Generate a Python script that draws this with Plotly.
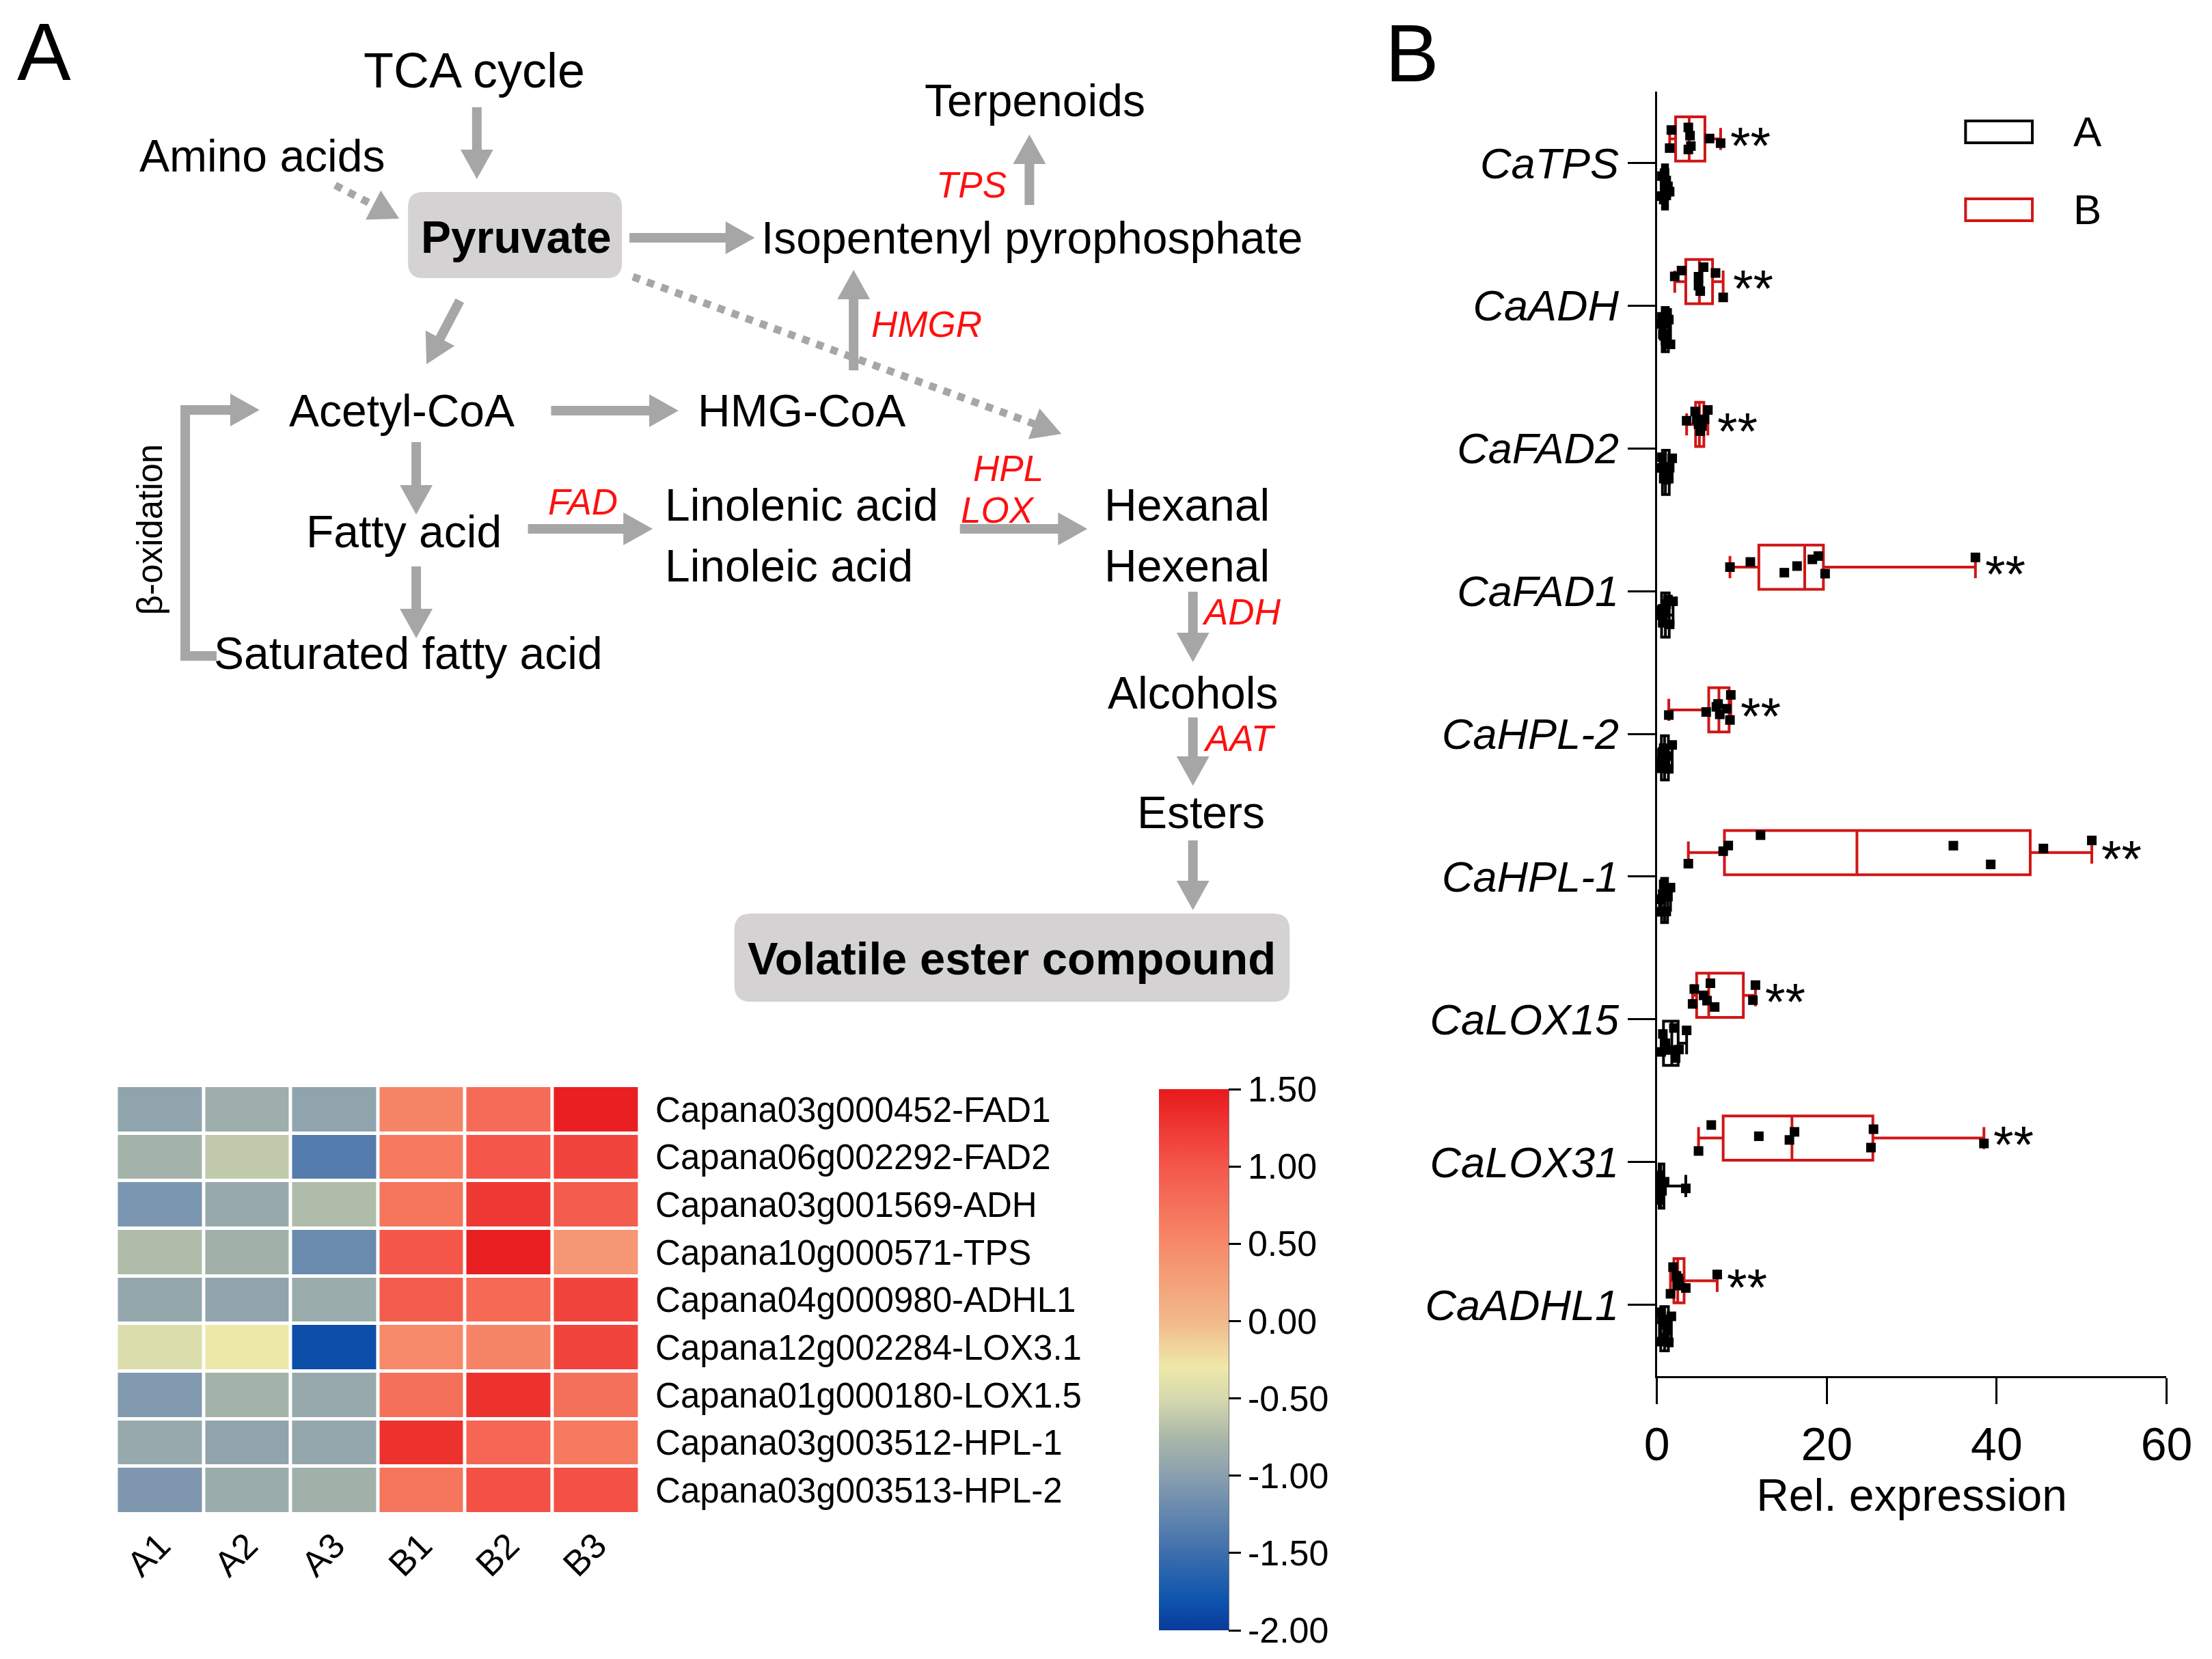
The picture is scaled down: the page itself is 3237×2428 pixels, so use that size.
import numpy as np
import plotly.graph_objects as go

W, H = 3237, 2428
FONT = "Liberation Sans, Arial, sans-serif"
GRAY = "#A6A6A6"
RED = "#D01616"
TXT_RED = "#FF1010"

# ---------------- heatmap data ----------------
samples = ["A1", "A2", "A3", "B1", "B2", "B3"]
gene_ids = ["Capana03g000452-FAD1", "Capana06g002292-FAD2", "Capana03g001569-ADH",
            "Capana10g000571-TPS", "Capana04g000980-ADHL1", "Capana12g002284-LOX3.1",
            "Capana01g000180-LOX1.5", "Capana03g003512-HPL-1", "Capana03g003513-HPL-2"]
FAD1_z = [-0.95, -0.85, -0.95, 0.55, 0.80, 1.45]
FAD2_z = [-0.80, -0.62, -1.35, 0.65, 1.00, 1.15]
ADH_z = [-1.10, -0.90, -0.72, 0.70, 1.25, 0.95]
TPS_z = [-0.72, -0.82, -1.20, 1.00, 1.45, 0.35]
ADHL1_z = [-0.92, -0.95, -0.87, 0.95, 0.82, 1.15]
LOX31_z = [-0.45, -0.30, -1.85, 0.50, 0.55, 1.15]
LOX15_z = [-1.05, -0.80, -0.90, 0.75, 1.30, 0.75]
HPL1_z = [-0.90, -0.95, -0.92, 1.30, 0.85, 0.65]
HPL2_z = [-1.08, -0.87, -0.82, 0.70, 1.05, 1.05]
cbar_ticks = [1.5, 1.0, 0.5, 0.0, -0.5, -1.0, -1.5, -2.0]

# ---------------- qPCR box data ----------------
qgenes = ["CaTPS", "CaADH", "CaFAD2", "CaFAD1", "CaHPL-2", "CaHPL-1", "CaLOX15", "CaLOX31", "CaADHL1"]
TPS_A = [0.5, 0.6, 0.8, 0.9, 1.0, 1.1, 1.3, 1.5]
TPS_B = [1.5, 1.7, 3.7, 3.7, 3.9, 4.0, 6.2, 7.5]
ADH_A = [0.4, 0.6, 0.7, 0.9, 1.0, 1.2, 1.4, 1.6]
ADH_B = [2.1, 2.9, 4.9, 4.9, 5.1, 5.5, 6.9, 7.8]
FAD2_A = [0.4, 0.6, 0.8, 0.9, 1.1, 1.3, 1.5, 1.8]
FAD2_B = [3.5, 4.5, 4.7, 4.9, 5.1, 5.3, 5.6, 6.0]
FAD1_A = [0.3, 0.5, 0.7, 0.9, 1.1, 1.3, 1.5, 1.9]
FAD1_B = [8.6, 11.0, 15.0, 16.5, 18.3, 19.0, 19.8, 37.5]
HPL2_A = [0.3, 0.5, 0.6, 0.8, 1.0, 1.2, 1.4, 1.8]
HPL2_B = [1.4, 5.8, 7.0, 7.2, 7.4, 8.2, 8.6, 8.7]
HPL1_A = [0.3, 0.5, 0.7, 0.8, 1.0, 1.1, 1.3, 1.6]
HPL1_B = [3.7, 7.8, 8.4, 12.2, 34.9, 39.3, 45.5, 51.2]
LOX15_A = [0.5, 0.7, 1.0, 1.5, 2.0, 2.2, 2.6, 3.5]
LOX15_B = [4.2, 4.4, 5.5, 5.9, 6.3, 6.8, 11.3, 11.6]
LOX31_A = [0.2, 0.25, 0.3, 0.4, 0.5, 0.6, 0.9, 3.4]
LOX31_B = [4.9, 6.4, 12.0, 15.6, 16.2, 25.2, 25.5, 38.5]
ADHL1_A = [0.3, 0.4, 0.6, 0.8, 1.0, 1.2, 1.4, 1.7]
ADHL1_B = [1.6, 1.9, 2.3, 2.4, 2.5, 2.6, 3.4, 7.1]
x_ticks = [0, 20, 40, 60]
signif = "**"

groupA = [TPS_A, ADH_A, FAD2_A, FAD1_A, HPL2_A, HPL1_A, LOX15_A, LOX31_A, ADHL1_A]
groupB = [TPS_B, ADH_B, FAD2_B, FAD1_B, HPL2_B, HPL1_B, LOX15_B, LOX31_B, ADHL1_B]
heat_z = [FAD1_z, FAD2_z, ADH_z, TPS_z, ADHL1_z, LOX31_z, LOX15_z, HPL1_z, HPL2_z]

# ---------------- pathway diagram text ----------------
pathway_labels = [
    ("TCA cycle", 698, 103, "center", 72),
    ("Amino acids", 387, 228, "center", 66),
    ("Terpenoids", 1521, 147, "center", 66),
    ("Isopentenyl pyrophosphate", 1517, 348, "center", 66),
    ("Acetyl-CoA", 592, 601, "center", 66),
    ("HMG-CoA", 1179, 601, "center", 66),
    ("Fatty acid", 595, 778, "center", 66),
    ("Linolenic acid", 976, 739, "left", 66),
    ("Linoleic acid", 976, 828, "left", 66),
    ("Hexanal", 1621, 739, "left", 66),
    ("Hexenal", 1621, 828, "left", 66),
    ("Saturated fatty acid", 601, 956, "center", 66),
    ("Alcohols", 1753, 1014, "center", 66),
    ("Esters", 1765, 1189, "center", 66),
]
enzyme_labels = [
    ("TPS", 1428, 270), ("HMGR", 1362, 475), ("FAD", 858, 734), ("HPL", 1482, 685),
    ("LOX", 1466, 747), ("ADH", 1825, 895), ("AAT", 1821, 1080),
]
# arrows: x0, y0, x1, y1, dotted
arrows = [
    (702, 157, 702, 262, False),
    (494, 271, 588, 320, True),
    (677, 440, 628, 533, False),
    (926, 348, 1110, 348, False),
    (931, 405, 1560, 635, True),
    (1513, 300, 1513, 197, False),
    (1255, 542, 1255, 395, False),
    (811, 601, 998, 601, False),
    (613, 647, 613, 753, False),
    (613, 829, 613, 934, False),
    (777, 774, 960, 774, False),
    (1411, 774, 1598, 774, False),
    (1753, 866, 1753, 969, False),
    (1753, 1050, 1753, 1150, False),
    (1753, 1230, 1753, 1332, False),
    (274, 600, 383, 600, False),
]

# page placement correction (measured from earlier renders)
SX, OX, OY = 0.9853, 29.2, 8.0


def PX(x):
    return ((x - OX) / SX) / W


def PY(y):
    return 1 - (y - OY) / H


shapes = []
annotations = []


def add_arrow(x0, y0, x1, y1, dotted):
    dx, dy = x1 - x0, y1 - y0
    L = (dx * dx + dy * dy) ** 0.5
    ux, uy = dx / L, dy / L
    hl, hw = 43, 24
    bx, by = x1 - ux * hl, y1 - uy * hl
    ex, ey = bx + ux * 2, by + uy * 2
    shapes.append(dict(type="line", xref="paper", yref="paper",
                       x0=PX(x0), y0=PY(y0), x1=PX(ex), y1=PY(ey),
                       line=dict(color=GRAY, width=11 if dotted else 14,
                                 dash="dot" if dotted else "solid")))
    pts = [(x1, y1), (bx - uy * hw, by + ux * hw), (bx + uy * hw, by - ux * hw)]
    path = "M " + " L ".join(f"{PX(px):.6f},{PY(py):.6f}" for px, py in pts) + " Z"
    shapes.append(dict(type="path", xref="paper", yref="paper", path=path,
                       fillcolor=GRAY, line=dict(width=0)))


def rounded_rect(x0, y0, x1, y1, r, color):
    pts = f"M {PX(x0 + r)},{PY(y0)} L {PX(x1 - r)},{PY(y0)} Q {PX(x1)},{PY(y0)} {PX(x1)},{PY(y0 + r)} " \
          f"L {PX(x1)},{PY(y1 - r)} Q {PX(x1)},{PY(y1)} {PX(x1 - r)},{PY(y1)} " \
          f"L {PX(x0 + r)},{PY(y1)} Q {PX(x0)},{PY(y1)} {PX(x0)},{PY(y1 - r)} " \
          f"L {PX(x0)},{PY(y0 + r)} Q {PX(x0)},{PY(y0)} {PX(x0 + r)},{PY(y0)} Z"
    shapes.append(dict(type="path", xref="paper", yref="paper", path=pts,
                       fillcolor=color, line=dict(width=0), layer="below"))


rounded_rect(601, 281, 915, 407, 22, "#D4D2D3")
rounded_rect(1080, 1337, 1895, 1466, 24, "#D4D2D3")

for a in arrows:
    add_arrow(*a)
# beta-oxidation bracket
for (xa, ya, xb, yb) in [(274, 600, 274, 967), (267, 960, 320, 960), (267, 600, 281, 600)]:
    shapes.append(dict(type="line", xref="paper", yref="paper", x0=PX(xa), y0=PY(ya),
                       x1=PX(xb), y1=PY(yb), line=dict(color=GRAY, width=14)))

for text, x, y, anc, sz in pathway_labels:
    annotations.append(dict(xref="paper", yref="paper", x=PX(x), y=PY(y), text=text,
                            showarrow=False, xanchor=anc, yanchor="middle",
                            font=dict(family=FONT, size=sz, color="black")))
annotations.append(dict(xref="paper", yref="paper", x=PX(760), y=PY(347), text="<b>Pyruvate</b>",
                        showarrow=False, xanchor="center", yanchor="middle",
                        font=dict(family=FONT, size=66, color="black")))
annotations.append(dict(xref="paper", yref="paper", x=PX(1487), y=PY(1402),
                        text="<b>Volatile ester compound</b>", showarrow=False,
                        xanchor="center", yanchor="middle",
                        font=dict(family=FONT, size=67, color="black")))
for text, x, y in enzyme_labels:
    annotations.append(dict(xref="paper", yref="paper", x=PX(x), y=PY(y), text=f"<i>{text}</i>",
                            showarrow=False, xanchor="center", yanchor="middle",
                            font=dict(family=FONT, size=53, color=TXT_RED)))
annotations.append(dict(xref="paper", yref="paper", x=PX(222), y=PY(775), text="β-oxidation",
                        showarrow=False, textangle=-90, xanchor="center", yanchor="middle",
                        font=dict(family=FONT, size=51, color="black")))
for letter, x, y in [("A", 67, 76), ("B", 2075, 78)]:
    annotations.append(dict(xref="paper", yref="paper", x=PX(x), y=PY(y), text=letter,
                            showarrow=False, xanchor="center", yanchor="middle",
                            font=dict(family=FONT, size=118, color="black")))

fig = go.Figure()

# ---------------- heatmap ----------------
cscale = [
    [0.0, "#0A3A9A"], [0.057, "#0E55AF"], [0.143, "#3D6EAC"], [0.286, "#8A9FB0"],
    [0.357, "#AAB8A8"], [0.429, "#D6D9AE"], [0.486, "#EEE8A8"], [0.571, "#F2B98A"],
    [0.714, "#F6896A"], [0.857, "#F4574A"], [1.0, "#E8191C"],
]
fig.add_trace(go.Heatmap(
    z=heat_z, x=samples, y=gene_ids, zmin=-2, zmax=1.5, colorscale=cscale,
    xgap=5, ygap=5, xaxis="x3", yaxis="y3",
    colorbar=dict(x=PX(1703), xanchor="left", y=PY(1594), yanchor="top",
                  len=(2386 - 1594) / H, lenmode="fraction", thickness=102,
                  thicknessmode="pixels", outlinewidth=0, xpad=0, ypad=0,
                  ticks="outside", ticklen=18, tickwidth=3, tickcolor="black",
                  tickvals=cbar_ticks, ticktext=[f"{v:.2f}" for v in cbar_ticks],
                  tickfont=dict(family=FONT, size=52, color="black")),
))
shapes.append(dict(type="line", xref="paper", yref="paper", x0=PX(1804), x1=PX(1804),
                   y0=PY(1594), y1=PY(2386), line=dict(color="black", width=4)))

# ---------------- box plots ----------------
idx = np.arange(len(qgenes))
posB = idx - 0.168
posA = idx + 0.168
BW = 0.31


def stats(groups):
    q1 = [float(np.percentile(g, 25, method="weibull")) for g in groups]
    md = [float(np.percentile(g, 50, method="weibull")) for g in groups]
    q3 = [float(np.percentile(g, 75, method="weibull")) for g in groups]
    lo = [float(min(g)) for g in groups]
    hi = [float(max(g)) for g in groups]
    return q1, md, q3, lo, hi


for groups, pos, col in [(groupB, posB, RED), (groupA, posA, "black")]:
    q1, md, q3, lo, hi = stats(groups)
    fig.add_trace(go.Box(orientation="h", y=list(pos), q1=q1, median=md, q3=q3,
                         lowerfence=lo, upperfence=hi, width=BW, whiskerwidth=0.5,
                         line=dict(color=col, width=4), fillcolor="rgba(0,0,0,0)",
                         boxpoints=False, xaxis="x2", yaxis="y2", showlegend=False))
    xs, ys = [], []
    for g, p in zip(groups, pos):
        xs += list(g)
        ys += [float(p)] * len(g)
    fig.add_trace(go.Box(orientation="h", x=xs, y=ys, width=BW, boxpoints="all",
                         jitter=0.8, pointpos=0,
                         marker=dict(symbol="square", size=14, color="black"),
                         line=dict(width=0, color="rgba(0,0,0,0)"),
                         fillcolor="rgba(0,0,0,0)", hoveron="points",
                         xaxis="x2", yaxis="y2", showlegend=False))

for g, p in zip(groupB, posB):
    annotations.append(dict(xref="x2", yref="y2", x=max(g), y=float(p), text=signif,
                            showarrow=False, xanchor="left", yanchor="middle",
                            xshift=12, yshift=-9,
                            font=dict(family=FONT, size=76, color="black")))

# manual legend
for label, col, yc in [("A", "black", 193), ("B", RED, 307)]:
    shapes.append(dict(type="rect", xref="paper", yref="paper", x0=PX(2887), x1=PX(2985),
                       y0=PY(yc - 16), y1=PY(yc + 16), line=dict(color=col, width=4),
                       fillcolor="rgba(0,0,0,0)"))
    annotations.append(dict(xref="paper", yref="paper", x=PX(3066), y=PY(yc), text=label,
                            showarrow=False, xanchor="center", yanchor="middle",
                            font=dict(family=FONT, size=62, color="black")))

fig.update_layout(
    width=W, height=H, autosize=False,
    margin=dict(l=0, r=0, t=0, b=0),
    paper_bgcolor="white", plot_bgcolor="white",
    showlegend=False,
    shapes=shapes, annotations=annotations,
    xaxis=dict(visible=False), yaxis=dict(visible=False),
    xaxis2=dict(domain=[PX(2434), PX(3182)], range=[0, 60], anchor="y2",
                showline=True, linecolor="black", linewidth=3, mirror=False,
                ticks="outside", ticklen=38, tickwidth=3, tickcolor="black",
                tickvals=x_ticks, showgrid=False, zeroline=False,
                ticklabeloverflow="allow",
                tickfont=dict(family=FONT, size=68, color="black"),
                title=dict(text="Rel. expression", standoff=10,
                           font=dict(family=FONT, size=66, color="black"))),
    yaxis2=dict(domain=[PY(2014), PY(134)], range=[8.5, -0.5], anchor="x2",
                showline=True, linecolor="black", linewidth=3,
                ticks="outside", ticklen=40, tickwidth=3, tickcolor="black",
                tickvals=list(idx), ticktext=[f"<i>{g}</i>" for g in qgenes],
                showgrid=False, zeroline=False,
                tickfont=dict(family=FONT, size=63, color="black")),
    xaxis3=dict(domain=[PX(173), PX(941)], anchor="y3", ticks="", showgrid=False,
                zeroline=False, showline=False, tickangle=-45, ticklabelstandoff=4,
                tickfont=dict(family=FONT, size=52, color="black")),
    yaxis3=dict(domain=[PY(2216), PY(1589)], anchor="x3", side="right", autorange="reversed",
                ticks="", showgrid=False, zeroline=False, showline=False,
                ticklabelstandoff=22,
                tickfont=dict(family=FONT, size=51, color="black")),
)

fig.write_html("out.html")
